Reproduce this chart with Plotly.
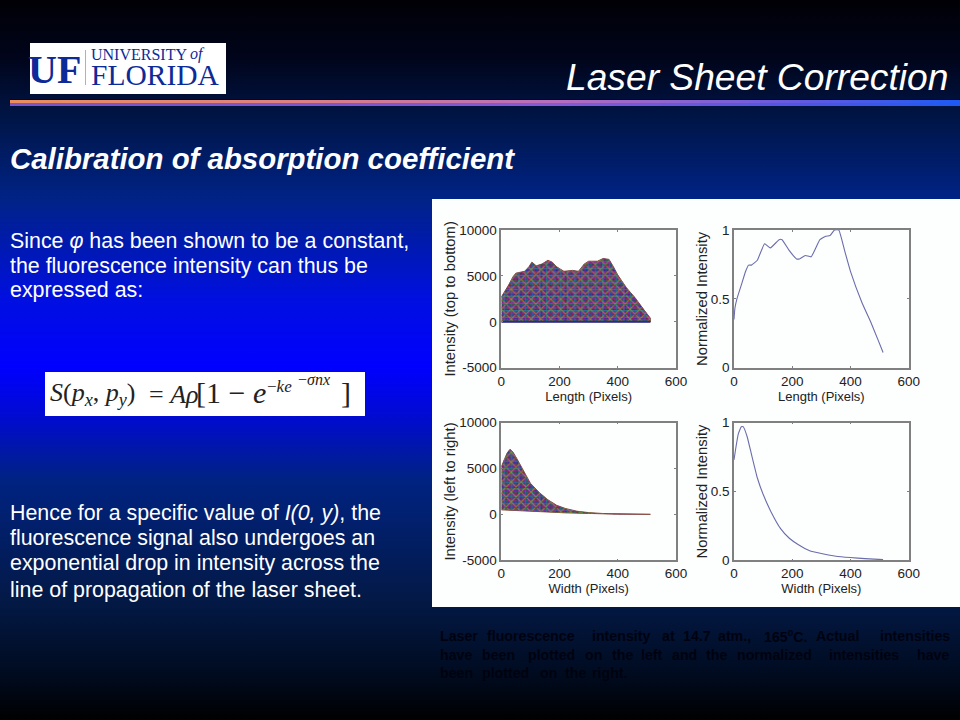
import base64
import numpy as np
import plotly.graph_objects as go

W, H = 960, 720

# ---- data ----
len_x = [0, 10, 25, 40, 50, 80, 95, 105, 120, 140, 160, 175, 190, 215, 245, 265, 285, 300, 330, 350, 370, 385, 400, 430, 460, 490, 512]
len_intensity = [2700, 3200, 4000, 4900, 5300, 5500, 6000, 6500, 6100, 6300, 6700, 6500, 6000, 5500, 5600, 5500, 6300, 6600, 6600, 6900, 6800, 6000, 5100, 3700, 2600, 1300, 400]
len_floor = [0, 512]
len_floor_val = [0, 0]

len_norm_x = [0, 3, 10, 25, 40, 50, 60, 80, 105, 125, 155, 165, 190, 215, 225, 245, 265, 295, 315, 330, 345, 360, 380, 400, 440, 470, 495, 512]
len_norm = [0.35, 0.43, 0.5, 0.6, 0.7, 0.745, 0.745, 0.78, 0.9, 0.87, 0.93, 0.93, 0.85, 0.79, 0.79, 0.815, 0.805, 0.93, 0.955, 0.96, 1.0, 1.0, 0.85, 0.7, 0.47, 0.33, 0.2, 0.11]

wid_x = [0, 10, 20, 30, 40, 55, 80, 100, 130, 160, 190, 220, 260, 300, 350, 400, 512]
wid_upper = [5200, 6000, 6700, 7100, 6800, 6000, 4500, 3400, 2400, 1600, 1000, 650, 350, 200, 100, 50, 20]
wid_lower = [500, 490, 480, 470, 460, 440, 400, 370, 320, 270, 220, 170, 120, 80, 50, 30, 10]

wid_norm_x = [0, 5, 15, 25, 32, 45, 60, 80, 100, 130, 160, 190, 220, 260, 300, 350, 400, 450, 512]
wid_norm = [0.73, 0.8, 0.92, 0.97, 0.97, 0.9, 0.77, 0.6, 0.48, 0.34, 0.23, 0.16, 0.115, 0.07, 0.05, 0.03, 0.02, 0.012, 0.005]

x_ticks = [0, 200, 400, 600]
int_ticks = [-5000, 0, 5000, 10000]
int_tick_text = ["-5000", "0", "5000", "10000"]
norm_ticks = [0, 0.5, 1]
norm_tick_text = ["0", "0.5", "1"]

body_top = ["Since <i>φ</i> has been shown to be a constant,",
            "the fluorescence intensity can thus be",
            "expressed as:"]
body_bottom = ["Hence for a specific value of <i>I(0, y)</i>, the",
               "fluorescence signal also undergoes an",
               "exponential drop in intensity across the",
               "line of propagation of the laser sheet."]
caption_words = [
    ["Laser", "fluorescence", "intensity", "at", "14.7", "atm.,", "165<sup>0</sup>C.", "Actual", "intensities"],
    ["have", "been", "plotted", "on", "the", "left", "and", "the", "normalized", "intensities", "have"],
    ["been", "plotted", "on", "the", "right."],
]
caption_x = [
    [440, 487, 592, 662, 683, 718, 764, 816, 880],
    [440, 482, 528, 585, 612, 641, 672, 706, 737, 829, 917],
    [440, 482, 540, 565, 592],
]
caption_y = [636, 655, 673]

# ---- helpers (pixel positions -> paper) ----
def fx(p): return p / W
def fy(p): return 1 - p / H

# slide background, one smooth vertical gradient
bg_y = [0, 60, 120, 200, 300, 367, 420, 480, 600, 680, 720]
bg_col = ["#000005", "#01051c", "#001648", "#002387", "#000fe1", "#0000ff", "#000ccd", "#002382", "#031946", "#000a1c", "#000000"]
stops = "".join(f'<stop offset="{y / H:.4f}" stop-color="{c}"/>' for y, c in zip(bg_y, bg_col))
svg = (f'<svg xmlns="http://www.w3.org/2000/svg" width="{W}" height="{H}">'
       f'<defs><linearGradient id="g" x1="0" y1="0" x2="0" y2="1">{stops}</linearGradient></defs>'
       f'<rect width="{W}" height="{H}" fill="url(#g)"/></svg>')
bg_src = "data:image/svg+xml;base64," + base64.b64encode(svg.encode()).decode()
images = [dict(source=bg_src, xref="paper", yref="paper", x=0, y=1, sizex=1, sizey=1,
               xanchor="left", yanchor="top", sizing="stretch", layer="below")]

shapes = []
def rect(x0, y0, x1, y1, col):
    shapes.append(dict(type="rect", xref="paper", yref="paper", layer="below",
                       x0=fx(x0), x1=fx(x1), y0=fy(y1), y1=fy(y0),
                       fillcolor=col, line_width=0))

# divider
rect(10, 99, 960, 100, "#05081e")
stops_x = [10, 300, 560, 800, 960]
top_col = [(236, 142, 92), (222, 128, 130), (182, 110, 190), (100, 90, 225), (30, 90, 245)]
bot_col = [(125, 85, 200), (125, 85, 205), (135, 90, 215), (80, 85, 230), (30, 90, 245)]
for x in range(10, 960, 10):
    for (y0, y1, pal) in ((100, 103, top_col), (103, 106, bot_col)):
        c = [int(np.interp(x + 5, stops_x, [p[i] for p in pal])) for i in range(3)]
        rect(x, y0, x + 10, y1, f"rgb({c[0]},{c[1]},{c[2]})")

rect(432, 199, 960, 607, "#fdfefe")   # figure panel
rect(30, 43, 226, 94, "#ffffff")      # logo
rect(85, 50, 86, 85, "#f0a060")       # logo bar
rect(45, 372, 365, 416, "#ffffff")    # equation

annotations = []
def text(x, y, s, size, color="white", anchor="left", family="Liberation Sans", va="middle"):
    annotations.append(dict(xref="paper", yref="paper", x=fx(x), y=fy(y), text=s, showarrow=False,
                            xanchor=anchor, yanchor=va, xshift=0, yshift=0, borderpad=0, borderwidth=0,
                            font=dict(size=size, color=color, family=family)))

text(948, 77, "<i>Laser Sheet Correction</i>", 37.2, anchor="right")
text(10, 158, "<b><i>Calibration of absorption coefficient</i></b>", 29.4)
for y, s in zip([241, 266, 290], body_top):
    text(10, y, s, 21.4)
for y, s in zip([513, 538, 563, 590], body_bottom):
    text(10, y, s, 21.4)

for row, xs, y in zip(caption_words, caption_x, caption_y):
    for w, x in zip(row, xs):
        text(x, y, f"<b>{w}</b>", 14.2, color="#00030f")

# logo
blue = "#0c2a98"
text(28, 69, "<b>UF</b>", 40, color=blue, family="Liberation Serif")
text(91, 55, "UNIVERSITY", 16, color=blue, family="Liberation Serif")
text(190, 54, "<i>of</i>", 16, color=blue, family="Liberation Serif")
text(91, 75, "FLORIDA", 29.5, color=blue, family="Liberation Serif")

# equation
ser = "Liberation Serif"; k = "#222222"
text(50, 394, "<i>S</i>(<i>p<sub>x</sub></i>,<i> p<sub>y</sub></i>)", 26, k, family=ser)
text(149, 394, "= <i>Aρ</i>", 26, k, family=ser)
text(196, 393, "[1 − <i>e</i>", 30, k, family=ser)
text(267, 386, "−<i>ke</i>", 17, k, family=ser)
text(298, 379, "−<i>σnx</i>", 16, k, family=ser)
text(341, 393, "]", 30, k, family=ser)

# ---- traces ----
data = []
speckle = [("#0000e0", ".", 3), ("#00a000", ".", 4), ("#e00000", "x", 5),
           ("#00a8a8", "+", 7), ("#d000d0", ".", 5), ("#c8b400", "x", 7)]

def area(xs, up, lo, ax):
    px = list(xs) + list(xs)[::-1]
    py = list(up) + list(lo)[::-1]
    data.append(go.Scatter(x=px, y=py, mode="lines", fill="toself", fillcolor="#4a4088",
                           line=dict(color="#8a5040", width=1), xaxis=f"x{ax}", yaxis=f"y{ax}",
                           showlegend=False, hoverinfo="skip"))
    for col, shp, size in speckle:
        data.append(go.Scatter(x=px, y=py, mode="none", fill="toself",
                               fillpattern=dict(shape=shp, size=size, solidity=0.3,
                                                fgcolor=col, bgcolor="rgba(0,0,0,0)"),
                               xaxis=f"x{ax}", yaxis=f"y{ax}", showlegend=False, hoverinfo="skip"))

area(len_x, len_intensity, [0] * len(len_x), 2)
data.append(go.Scatter(x=len_floor, y=len_floor_val, mode="lines", line=dict(color="#2a2a8c", width=2),
                       xaxis="x2", yaxis="y2", showlegend=False))
data.append(go.Scatter(x=len_norm_x, y=len_norm, mode="lines", line=dict(color="#6c6cab", width=1.1, shape="spline", smoothing=0.35),
                       xaxis="x3", yaxis="y3", showlegend=False))
area(wid_x, wid_upper, wid_lower, 4)
data.append(go.Scatter(x=wid_norm_x, y=wid_norm, mode="lines", line=dict(color="#6c6cab", width=1.1, shape="spline", smoothing=0.35),
                       xaxis="x5", yaxis="y5", showlegend=False))

layout = dict(width=W, height=H, margin=dict(l=0, r=0, t=0, b=0), showlegend=False,
              paper_bgcolor="rgba(0,0,0,0)", plot_bgcolor="rgba(0,0,0,0)",
              shapes=shapes, annotations=annotations, images=images,
              font=dict(family="Liberation Sans", color="#222222"))

panels = [
    (2, 501.3, 676, 230, 367.7, "Length (Pixels)", "Intensity (top to bottom)", int_ticks, int_tick_text, [-5000, 10000]),
    (3, 734, 908.7, 230, 367.7, "Length (Pixels)", "Normalized Intensity", norm_ticks, norm_tick_text, [0, 1]),
    (4, 501.3, 676, 422.7, 560.3, "Width (Pixels)", "Intensity (left to right)", int_ticks, int_tick_text, [-5000, 10000]),
    (5, 734, 908.7, 422.7, 560.3, "Width (Pixels)", "Normalized Intensity", norm_ticks, norm_tick_text, [0, 1]),
]
axis_common = dict(showgrid=False, zeroline=False, showline=True, linecolor="#808080", linewidth=1.5,
                   mirror="ticks", ticks="inside", ticklen=2, tickcolor="#808080", automargin=False,
                   tickfont=dict(size=13.5, color="#222222", family="Liberation Sans"))
for n, x0, x1, y0, y1, xt, yt, yticks, ytext, yr in panels:
    layout[f"xaxis{n}"] = dict(domain=[fx(x0), fx(x1)], range=[0, 600], tickvals=x_ticks,
                               anchor=f"y{n}",
                               title=dict(text=xt, standoff=1, font=dict(size=13, color="#222222")),
                               **axis_common)
    layout[f"yaxis{n}"] = dict(domain=[fy(y1), fy(y0)], range=yr, tickvals=yticks, ticktext=ytext,
                               anchor=f"x{n}",
                               title=dict(text=yt, standoff=0, font=dict(size=14.8, color="#222222")),
                               **axis_common)

fig = go.Figure(data=data, layout=layout)
fig.write_html(
    "out.html",
    config={"displayModeBar": False},
    post_script="document.documentElement.style.margin='0';document.body.style.margin='0';"
                "document.body.style.padding='0';document.documentElement.style.overflow='hidden';",
)
